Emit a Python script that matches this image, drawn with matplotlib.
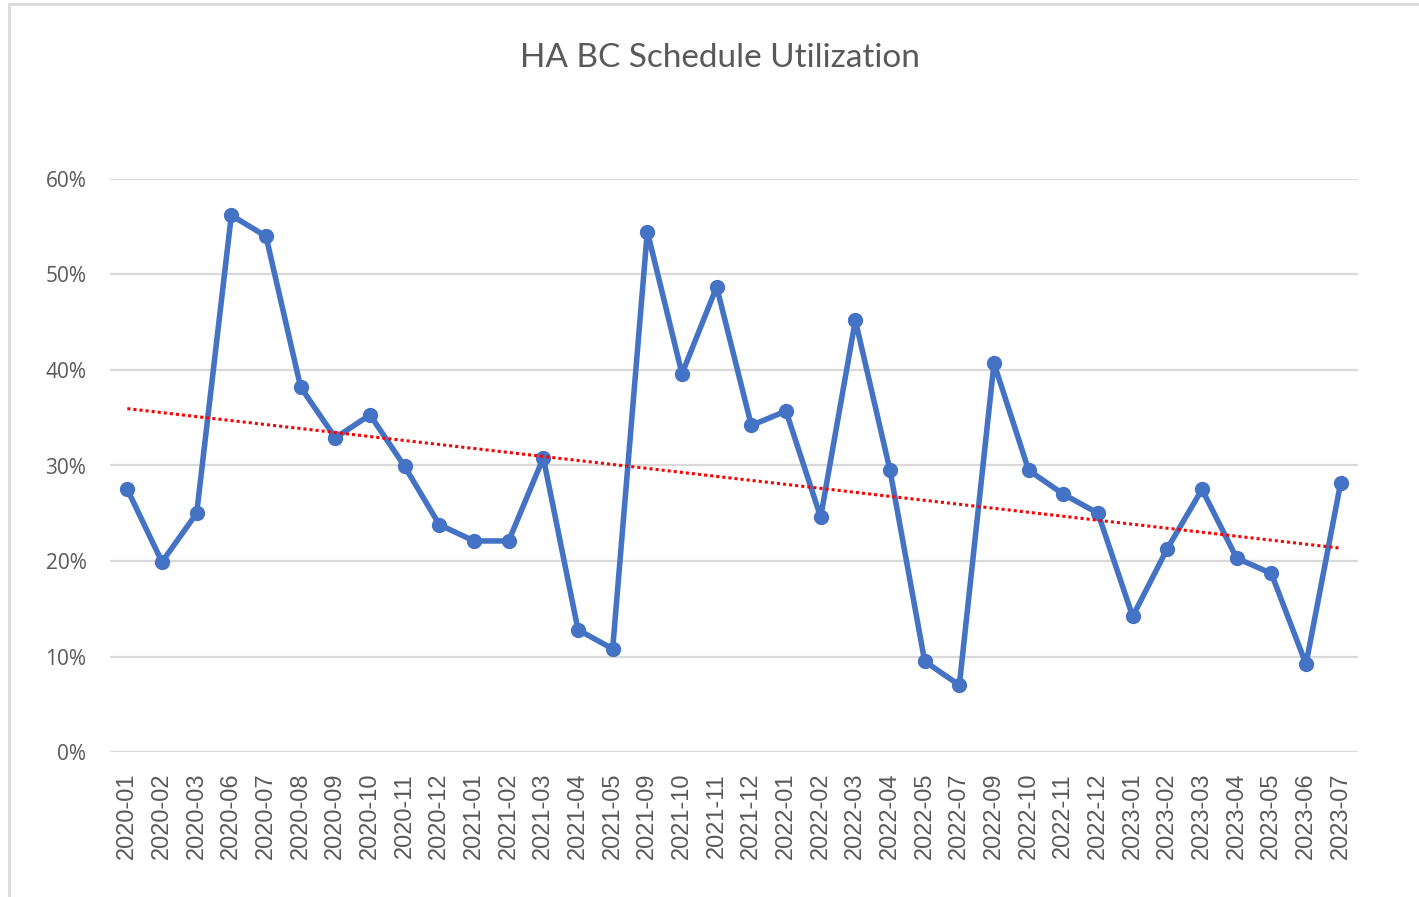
import matplotlib.pyplot as plt
import numpy as np
from matplotlib.patches import Rectangle

# Monthly schedule utilization (fraction)
months = ['2020-01', '2020-02', '2020-03', '2020-06', '2020-07', '2020-08',
          '2020-09', '2020-10', '2020-11', '2020-12', '2021-01', '2021-02',
          '2021-03', '2021-04', '2021-05', '2021-09', '2021-10', '2021-11',
          '2021-12', '2022-01', '2022-02', '2022-03', '2022-04', '2022-05',
          '2022-07', '2022-09', '2022-10', '2022-11', '2022-12', '2023-01',
          '2023-02', '2023-03', '2023-04', '2023-05', '2023-06', '2023-07']
utilization = [0.275, 0.199, 0.250, 0.562, 0.540, 0.382,
               0.329, 0.353, 0.299, 0.238, 0.221, 0.221,
               0.308, 0.128, 0.108, 0.545, 0.396, 0.487,
               0.342, 0.357, 0.246, 0.452, 0.295, 0.095,
               0.070, 0.407, 0.295, 0.270, 0.250, 0.142,
               0.213, 0.275, 0.203, 0.187, 0.092, 0.282]
y_ticks = [0, 0.1, 0.2, 0.3, 0.4, 0.5, 0.6]

W, H = 1419, 897
fig = plt.figure(figsize=(W / 100, H / 100), dpi=100)
ax = fig.add_axes([110 / W, 1 - 752 / H, (1358 - 110) / W, (752 - 179) / H])

# chart border (cropped on right and bottom)
fig.patches.append(Rectangle((9 / W, -0.1), 1.2, 0.1 + (H - 4) / H,
                             transform=fig.transFigure, fill=False,
                             edgecolor='#D9D9D9', linewidth=2))

x = np.arange(len(months))
ax.plot(x, utilization, color='#4472C4', linewidth=4, marker='o',
        markersize=10, zorder=3)

# linear trendline
coef = np.polyfit(x, utilization, 1)
ax.plot(x, np.polyval(coef, x), color='#FF0000', linestyle=(0, (1, 1)),
        linewidth=2.2, zorder=4)

ax.set_xlim(-0.5, len(months) - 0.5)
ax.set_ylim(0, 0.6)
ax.set_yticks(y_ticks)
ax.set_yticklabels([f'{int(round(v * 100))}%' for v in y_ticks],
                   fontfamily='Open Sans', fontsize=15, color='#595959')
ax.set_xticks(x)
ax.set_xticklabels(months, rotation=90, fontfamily='Liberation Sans',
                   fontsize=17, color='#595959')
ax.tick_params(axis='both', length=0)
ax.tick_params(axis='x', pad=15)
ax.tick_params(axis='y', pad=17)
ax.grid(axis='y', color='#D9D9D9', linewidth=1.6)
ax.set_axisbelow(True)
for s in ax.spines.values():
    s.set_visible(False)

fig.text(720 / W, 1 - 58 / H, 'HA BC Schedule Utilization', ha='center',
         va='center', fontfamily='Lato', fontsize=24, color='#595959')

plt.savefig('out.png', dpi=100)
